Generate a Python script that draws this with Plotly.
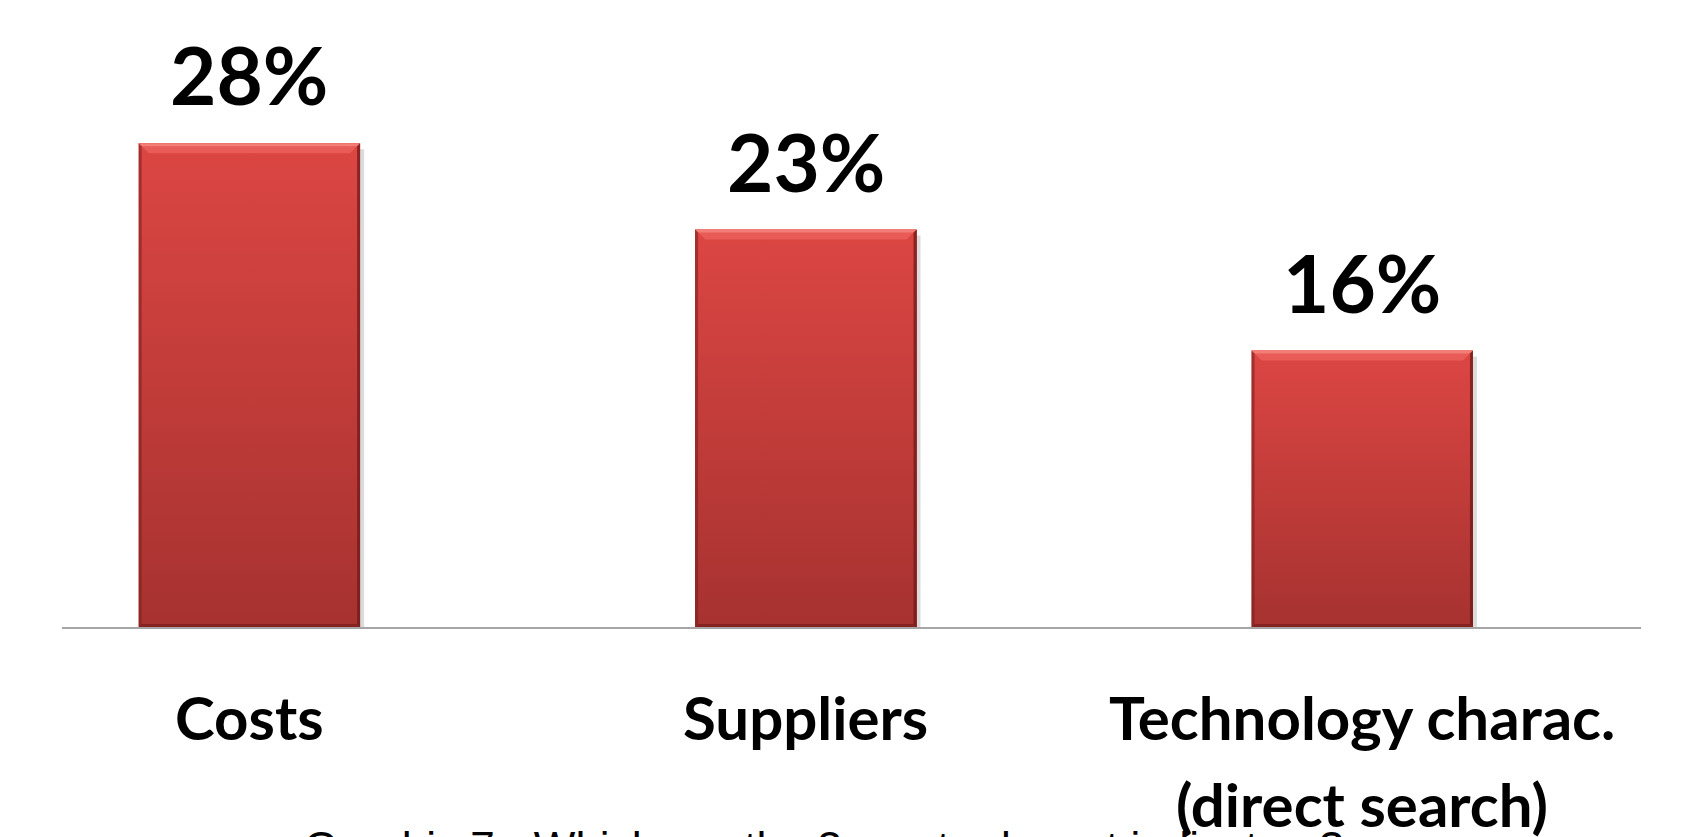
import plotly.graph_objects as go

# Survey results: share of answers per indicator
categories = ["Costs", "Suppliers", "Technology charac.\n(direct search)"]
shares = [28, 23, 16]
caption = "Graphic 7 - Which are the 3 most relevant indicators?"

positions = list(range(len(categories)))
BAR_W = 0.398
PX_X = 556.5          # pixels per x unit
PX_Y = 17.28          # pixels per percentage point

fig = go.Figure()


def poly(xs, ys, color, **kw):
    fig.add_trace(go.Scatter(
        x=xs + [xs[0]], y=ys + [ys[0]], mode="lines", fill="toself",
        line=dict(width=0), fillcolor=color, hoverinfo="skip",
        showlegend=False, **kw))


# soft drop shadow to the right of each bar
for p, v in zip(positions, shares):
    x1 = p + BAR_W / 2
    sx = 4 / PX_X
    poly([x1, x1 + sx, x1 + sx, x1], [v - 6 / PX_Y, v - 6 / PX_Y, -2 / PX_Y, -2 / PX_Y],
         "rgba(0,0,0,0.14)")

# base bars
fig.add_trace(go.Bar(
    x=positions, y=shares, width=BAR_W,
    marker=dict(color="#C03B38", line=dict(width=0)),
    hoverinfo="x+y", showlegend=False,
))

# vertical colour gradient and bevelled edges on top of each bar
for p, v in zip(positions, shares):
    x0, x1 = p - BAR_W / 2, p + BAR_W / 2
    bx = 10 / PX_X
    by = 10 / PX_Y
    ex = 3 / PX_X
    poly([x0, x1, x1, x0], [0, 0, v, v], "#C03B38",
         fillgradient=dict(type="vertical",
                           colorscale=[[0, "#A63230"], [1, "#DC4643"]],
                           start=0, stop=v))
    # top bevel highlight
    poly([x0, x1, x1 - bx, x0 + bx], [v, v, v - by, v - by], "#E85B56")
    poly([x0, x1, x1 - ex, x0 + ex], [v, v, v - 3 / PX_Y, v - 3 / PX_Y], "#F37E77")
    # darker side and bottom edges
    poly([x0, x0 + ex, x0 + ex, x0], [0, 3 / PX_Y, v - 3 / PX_Y, v], "rgba(120,30,28,0.55)")
    poly([x1, x1 - ex, x1 - ex, x1], [0, 3 / PX_Y, v - 3 / PX_Y, v], "rgba(110,25,24,0.75)")
    poly([x0, x1, x1 - ex, x0 + ex], [0, 0, 3 / PX_Y, 3 / PX_Y], "rgba(110,25,24,0.6)")

annotations = []

# caption sits low, partly off the page edge
annotations.append(dict(
    text=caption, xref="paper", yref="paper", x=(302 - 62) / 1579, y=-0.310,
    xanchor="left", yanchor="top", showarrow=False,
    font=dict(family="Liberation Sans, Arial, sans-serif", size=44, color="#000000"),
))

# value labels above bars
for p, v in zip(positions, shares):
    annotations.append(dict(
        text=f"{v}%", x=p, y=v, xref="x", yref="y",
        xanchor="center", yanchor="bottom", yshift=19, showarrow=False,
        font=dict(family="Lato, sans-serif", size=80, color="#000000", weight="bold"),
    ))

# category labels below the axis
for p, label in zip(positions, categories):
    for i, line in enumerate(label.split("\n")):
        annotations.append(dict(
            text=line, x=p, y=0, xref="x", yref="y",
            xanchor="center", yanchor="top", yshift=-52 - 87 * i, showarrow=False,
            font=dict(family="Lato, sans-serif", size=60, color="#000000", weight="bold"),
        ))

fig.update_layout(
    width=1682, height=837,
    margin=dict(l=62, r=41, t=0, b=210, pad=0),
    paper_bgcolor="#FFFFFF", plot_bgcolor="#FFFFFF",
    annotations=annotations,
    xaxis=dict(range=[(62 - 249.4) / PX_X, (1641.2 - 249.4) / PX_X],
               showgrid=False, zeroline=False, showticklabels=False, ticks="",
               showline=True, linecolor="#A6A6A6", linewidth=1.5, fixedrange=True),
    yaxis=dict(range=[0, 627 / PX_Y], visible=False, fixedrange=True),
    bargap=0,
)

fig.write_html("out.html")
